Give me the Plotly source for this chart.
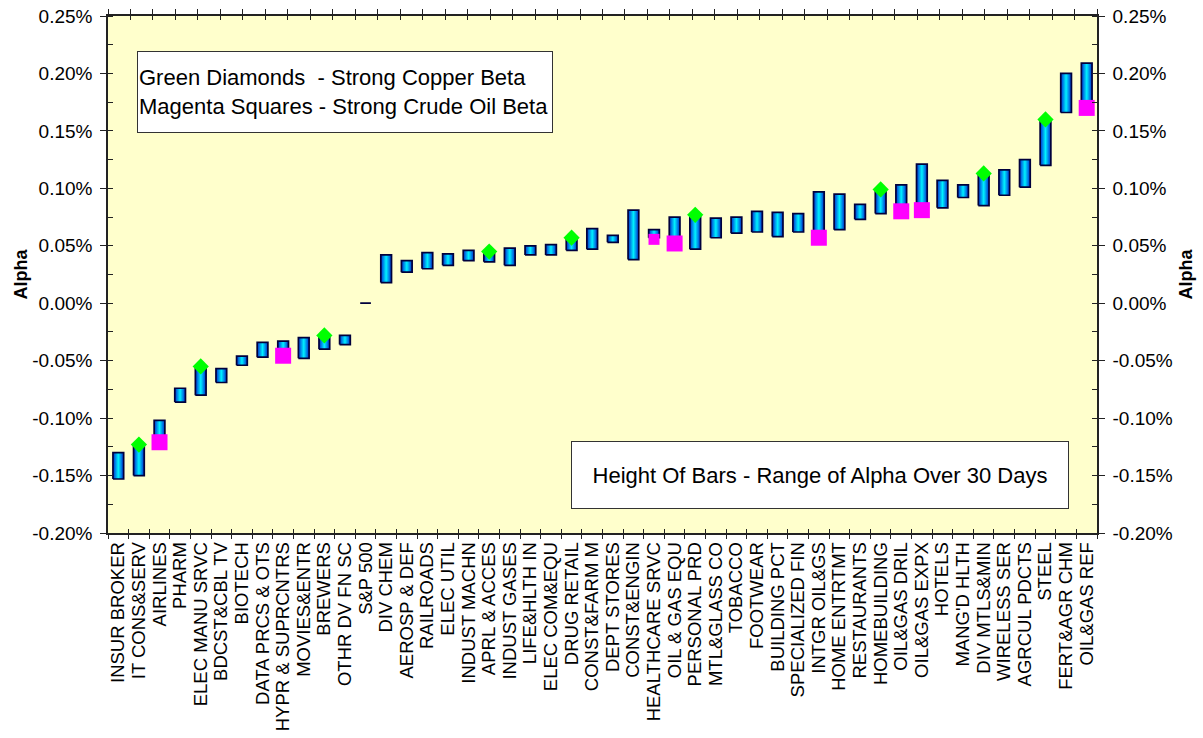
import plotly.graph_objects as go

# ---------------- data ----------------
categories = [
    "INSUR BROKER", "IT CONS&SERV", "AIRLINES", "PHARM", "ELEC MANU SRVC",
    "BDCST&CBL TV", "BIOTECH", "DATA PRCS & OTS", "HYPR & SUPRCNTRS", "MOVIES&ENTR",
    "BREWERS", "OTHR DV FN SC", "S&P 500", "DIV CHEM", "AEROSP & DEF",
    "RAILROADS", "ELEC UTIL", "INDUST MACHN", "APRL & ACCES", "INDUST GASES",
    "LIFE&HLTH IN", "ELEC COM&EQU", "DRUG RETAIL", "CONST&FARM M", "DEPT STORES",
    "CONST&ENGIN", "HEALTHCARE SRVC", "OIL & GAS EQU", "PERSONAL PRD", "MTL&GLASS CO",
    "TOBACCO", "FOOTWEAR", "BUILDING PCT", "SPECIALIZED FIN", "INTGR OIL&GS",
    "HOME ENTRTMT", "RESTAURANTS", "HOMEBUILDING", "OIL&GAS DRIL", "OIL&GAS EXPX",
    "HOTELS", "MANG'D HLTH", "DIV MTLS&MIN", "WIRELESS SER", "AGRCUL PDCTS",
    "STEEL", "FERT&AGR CHM", "OIL&GAS REF",
]

# alpha range over 30 days (percent)
alpha_high = [
    -0.130, -0.123, -0.102, -0.074, -0.055, -0.057, -0.046, -0.034, -0.033, -0.030,
    -0.029, -0.028, 0.000, 0.042, 0.037, 0.044, 0.043, 0.046, 0.045, 0.048,
    0.050, 0.051, 0.056, 0.065, 0.059, 0.081, 0.064, 0.075, 0.076, 0.074,
    0.075, 0.080, 0.079, 0.078, 0.097, 0.095, 0.086, 0.098, 0.103, 0.121,
    0.107, 0.103, 0.112, 0.116, 0.125, 0.159, 0.200, 0.209,
]
alpha_low = [
    -0.153, -0.150, -0.118, -0.086, -0.080, -0.069, -0.054, -0.047, -0.044, -0.048,
    -0.040, -0.036, 0.000, 0.018, 0.027, 0.030, 0.033, 0.037, 0.036, 0.033,
    0.042, 0.042, 0.046, 0.047, 0.053, 0.038, 0.057, 0.050, 0.047, 0.057,
    0.061, 0.062, 0.058, 0.062, 0.058, 0.064, 0.073, 0.078, 0.082, 0.082,
    0.083, 0.092, 0.085, 0.094, 0.101, 0.120, 0.166, 0.172,
]

# strong copper beta (green diamonds)
copper_cats = ["IT CONS&SERV", "ELEC MANU SRVC", "BREWERS", "APRL & ACCES", "DRUG RETAIL",
               "PERSONAL PRD", "HOMEBUILDING", "DIV MTLS&MIN", "STEEL"]
copper_vals = [-0.123, -0.055, -0.028, 0.045, 0.057, 0.077, 0.099, 0.113, 0.160]

# strong crude oil beta (magenta squares)
crude_cats = ["AIRLINES", "HYPR & SUPRCNTRS", "HEALTHCARE SRVC", "OIL & GAS EQU",
              "INTGR OIL&GS", "OIL&GAS DRIL", "OIL&GAS EXPX", "OIL&GAS REF"]
crude_vals = [-0.121, -0.0457, 0.0556, 0.052, 0.057, 0.080, 0.081, 0.170]

y_tick_vals = [-0.20, -0.15, -0.10, -0.05, 0.00, 0.05, 0.10, 0.15, 0.20, 0.25]
y_tick_text = ["-0.20%", "-0.15%", "-0.10%", "-0.05%", "0.00%", "0.05%", "0.10%", "0.15%", "0.20%", "0.25%"]
y_range = [-0.20, 0.25]

# ---------------- styles ----------------
FONT = "Liberation Sans, Arial, sans-serif"
BAR_HALF = 0.26
GRAD = [[0, "#0028d0"], [0.5, "#00f2ff"], [1, "#0028d0"]]
AXIS_COLOR = "#222222"
small_square = {"HEALTHCARE SRVC": 11}

pos = {c: i for i, c in enumerate(categories)}

fig = go.Figure()

for i, (lo, hi) in enumerate(zip(alpha_low, alpha_high)):
    fig.add_trace(go.Scatter(
        x=[i - BAR_HALF, i + BAR_HALF, i + BAR_HALF, i - BAR_HALF, i - BAR_HALF],
        y=[lo, lo, hi, hi, lo],
        mode="lines", fill="toself",
        fillgradient=dict(type="horizontal", colorscale=GRAD),
        line=dict(color="#00003c", width=1.7),
        hoverinfo="skip", showlegend=False,
    ))

fig.add_trace(go.Scatter(
    x=[pos[c] for c in copper_cats], y=copper_vals, mode="markers", opacity=1,
    marker=dict(symbol="diamond", size=12.5, color="#00ff00", opacity=1, line=dict(width=0)),
    showlegend=False, hoverinfo="skip",
))
fig.add_trace(go.Scatter(
    x=[pos[c] for c in crude_cats], y=crude_vals, mode="markers", opacity=1,
    marker=dict(symbol="square", size=[small_square.get(c, 16) for c in crude_cats],
                color="#ff00ff", opacity=1, line=dict(width=0)),
    showlegend=False, hoverinfo="skip",
))

# dummy traces so overlay axes are drawn
n = len(categories)
for xa in ["x2", "x3", "x4", "x5"]:
    fig.add_trace(go.Scatter(x=[None], y=[None], xaxis=xa, yaxis="y", showlegend=False, hoverinfo="skip"))
fig.add_trace(go.Scatter(x=[None], y=[None], xaxis="x", yaxis="y2", showlegend=False, hoverinfo="skip"))

tickfont = dict(family=FONT, size=19, color="black")
yaxis_common = dict(
    range=y_range, tickmode="array", tickvals=y_tick_vals, ticktext=y_tick_text,
    ticks="outside", ticklen=6, tickcolor=AXIS_COLOR, tickwidth=1,
    minor=dict(tickmode="linear", tick0=-0.2, dtick=0.025, ticks="inside", ticklen=5,
               tickcolor=AXIS_COLOR, showgrid=False),
    showgrid=False, zeroline=False, showline=True, linecolor=AXIS_COLOR, linewidth=1.5,
    tickfont=tickfont, ticklabelstandoff=4, automargin=False, ticklabeloverflow="allow",
)
title_font = dict(family=FONT, size=18, color="black")

fig.update_layout(
    width=1203, height=738,
    margin=dict(l=108, r=106, t=16, b=205, autoexpand=False),
    paper_bgcolor="white", plot_bgcolor="#ffffcc",
    showlegend=False,
    xaxis=dict(
        range=[-0.5, n - 0.5], tickmode="array", tickvals=list(range(n)), ticktext=categories,
        tickangle=-90, ticks="", tickfont=dict(family=FONT, size=18.5, color="black"),
        showgrid=False, zeroline=False, showline=True, linecolor=AXIS_COLOR, linewidth=1.5,
        automargin=False,
    ),
    xaxis3=dict(overlaying="x", anchor="y", side="bottom", range=[-0.5, n - 0.5],
                tickmode="linear", tick0=-0.5, dtick=1, ticks="outside", ticklen=5,
                tickcolor=AXIS_COLOR, showticklabels=False, showgrid=False, zeroline=False, showline=False),
    xaxis4=dict(overlaying="x", anchor="y", side="bottom", range=[-0.5, n - 0.5],
                tickmode="linear", tick0=-0.5, dtick=1, ticks="inside", ticklen=4,
                tickcolor=AXIS_COLOR, showticklabels=False, showgrid=False, zeroline=False, showline=False),
    xaxis2=dict(overlaying="x", anchor="y", side="top", range=[0, 44],
                tickmode="linear", tick0=0, dtick=1, ticks="outside", ticklen=5,
                tickcolor=AXIS_COLOR, showticklabels=False, showgrid=False, zeroline=False,
                showline=True, linecolor=AXIS_COLOR, linewidth=1.5),
    xaxis5=dict(overlaying="x", anchor="y", side="top", range=[0, 44],
                tickmode="linear", tick0=0, dtick=1, ticks="inside", ticklen=4,
                tickcolor=AXIS_COLOR, showticklabels=False, showgrid=False, zeroline=False, showline=False),
    yaxis=dict(side="left", title=dict(text="<b>Alpha</b>", font=title_font, standoff=0), **yaxis_common),
    yaxis2=dict(side="right", overlaying="y", anchor="x",
                title=dict(text="<b>Alpha</b>", font=title_font, standoff=8), **yaxis_common),
)

fig.add_annotation(
    xref="paper", yref="paper", x=(137 - 108) / 989, y=(533 - 51) / 517,
    xanchor="left", yanchor="top", align="left", valign="middle",
    text="Green Diamonds  - Strong Copper Beta<br>Magenta Squares - Strong Crude Oil Beta",
    font=dict(family=FONT, size=22, color="black"),
    showarrow=False, bgcolor="white", bordercolor="#333333", borderwidth=1, borderpad=1,
    width=412, height=78,
)
fig.add_annotation(
    xref="paper", yref="paper", x=(571 - 108) / 989, y=(533 - 441) / 517,
    xanchor="left", yanchor="top", align="center", valign="middle",
    text="Height Of Bars - Range of Alpha Over 30 Days",
    font=dict(family=FONT, size=22, color="black"),
    showarrow=False, bgcolor="white", bordercolor="#333333", borderwidth=1, borderpad=1,
    width=494, height=64,
)

# remove the browser's default 8px body margin so the figure sits at the page origin
fig.write_html("out.html", config={"displayModeBar": False},
               post_script="document.body.style.margin='0';")
